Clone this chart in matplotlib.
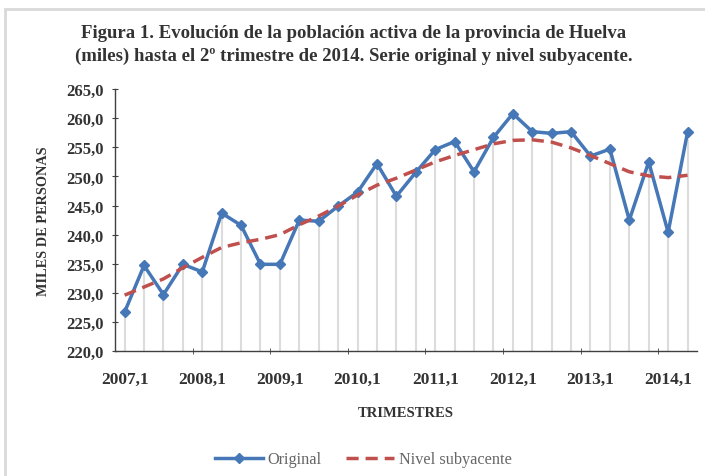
import numpy as np
import matplotlib
matplotlib.use('Agg')
import matplotlib.pyplot as plt
from matplotlib.patches import Rectangle

plt.rcParams['font.family'] = ['Liberation Serif', 'DejaVu Serif']

# Quarters 2007,1 .. 2014,2
quarters = [f'{y},{q}' for y in range(2007, 2015) for q in range(1, 5)][:30]
original = [226.7, 234.7, 229.7, 234.9, 233.6, 243.7, 241.6, 234.9, 234.9, 242.5,
            242.3, 244.9, 247.3, 252.2, 246.6, 250.7, 254.6, 256.0, 250.8, 256.7,
            260.8, 257.7, 257.4, 257.7, 253.5, 254.7, 242.5, 252.5, 240.4, 257.6]
nivel = [229.6, 231.0, 232.4, 234.3, 236.1, 237.8, 238.6, 239.2, 240.0, 241.7,
         243.2, 244.9, 246.8, 248.5, 249.7, 251.1, 252.5, 253.6, 254.6, 255.6,
         256.2, 256.3, 255.9, 254.9, 253.6, 252.2, 250.8, 250.1, 249.8, 250.2]
yticks = np.arange(220, 266, 5)

fig = plt.figure(figsize=(7.05, 4.77), dpi=100)
# light grey frame of the chart area
fig.patches.append(Rectangle((5 / 705, -0.1), 1.2, 1 - 10 / 477 + 0.1, transform=fig.transFigure,
                             fill=False, edgecolor='#d9d9d9', linewidth=2))
ax = fig.add_axes([0.163, 0.262, 0.826, 0.549])

x = np.arange(len(quarters))
ax.vlines(x, 220, original, color='#dcdcdc', linewidth=1.5, zorder=1)
ax.plot(x, original, color='#4677b6', linewidth=2.5, marker='D', markersize=5,
        label='Original', zorder=3)
ax.plot(x, nivel, color='#c0504d', linewidth=2.5, linestyle=(0, (3.5, 2)),
        label='Nivel subyacente', zorder=4)

ax.set_xlim(-0.5, len(quarters) - 0.5)
ax.set_ylim(220, 265)
ax.set_yticks(yticks)
ax.set_yticklabels([f'{v:.1f}'.replace('.', ',') for v in yticks],
                   fontsize=12, fontweight='bold', color='#333333')
lab_idx = [i for i, q in enumerate(quarters) if q.endswith(',1')]
ax.set_xticks(lab_idx)
ax.set_xticklabels([quarters[i] for i in lab_idx], fontsize=12.5, fontweight='bold', color='#333333')
ax.tick_params(axis='x', length=0, pad=14)
ax.set_xticks(np.arange(3.5, len(quarters), 4), minor=True)
ax.tick_params(axis='x', which='minor', length=4, direction='inout', color='#404040')
ax.tick_params(axis='y', length=4, direction='inout', color='#404040', pad=6)

for s in ['top', 'right']:
    ax.spines[s].set_visible(False)
for s in ['left', 'bottom']:
    ax.spines[s].set_color('#404040')
    ax.spines[s].set_linewidth(1)

ax.set_xlabel('TRIMESTRES', fontsize=10.5, fontweight='bold', color='#333333', labelpad=14)
ax.set_ylabel('MILES DE PERSONAS', fontsize=10.3, fontweight='bold', color='#333333', labelpad=12)

fig.text(0.502, 0.93, 'Figura 1. Evolución de la población activa de la provincia de Huelva',
         ha='center', va='center', fontsize=13.5, fontweight='bold', color='#333333')
fig.text(0.502, 0.882, '(miles) hasta el 2º trimestre de 2014. Serie original y nivel subyacente.',
         ha='center', va='center', fontsize=13.5, fontweight='bold', color='#333333')

leg = fig.legend(loc='center', bbox_to_anchor=(0.515, 0.035), ncol=2, frameon=False,
                 fontsize=11.7, handlelength=2.95, handletextpad=0.3, columnspacing=1.5)
for t in leg.get_texts():
    t.set_color('#666666')

fig.savefig('out.png', dpi=100)
